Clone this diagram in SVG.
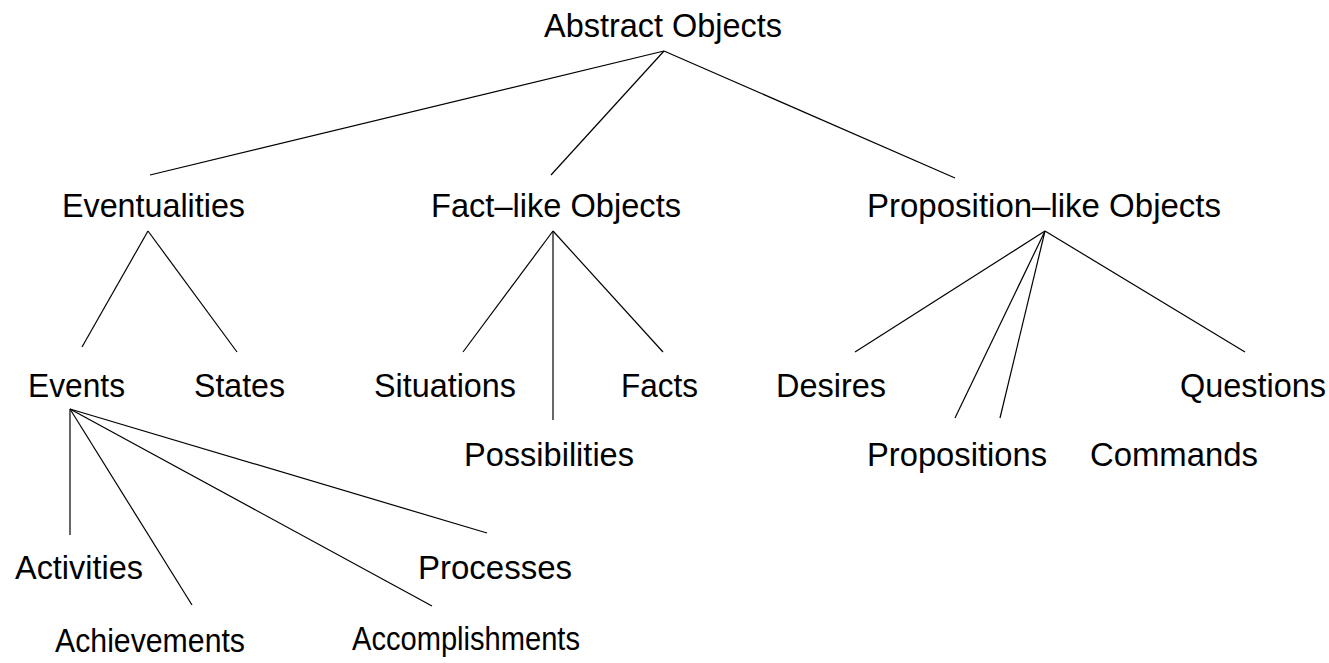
<svg xmlns="http://www.w3.org/2000/svg" width="1329" height="663" viewBox="0 0 1329 663">
<style>
text{font-family:"Liberation Sans",Arial,Helvetica,sans-serif;font-size:33px;fill:#000}
.c line{stroke:#000;stroke-width:1.2}
</style>
<rect width="1329" height="663" fill="#fff"/>
<g class="c" id="connectors">
<line x1="664" y1="51" x2="150" y2="175"/>
<line x1="664" y1="51" x2="551" y2="175"/>
<line x1="664" y1="51" x2="955" y2="178"/>
<line x1="148" y1="231" x2="82" y2="347"/>
<line x1="148" y1="231" x2="237" y2="352"/>
<line x1="553" y1="231" x2="463" y2="352"/>
<line x1="553" y1="231" x2="553" y2="420"/>
<line x1="553" y1="231" x2="663" y2="352"/>
<line x1="1045" y1="231" x2="855" y2="352"/>
<line x1="1045" y1="231" x2="955" y2="418"/>
<line x1="1045" y1="231" x2="1000" y2="418"/>
<line x1="1045" y1="231" x2="1245" y2="352"/>
<line x1="70" y1="409" x2="70" y2="535"/>
<line x1="70" y1="409" x2="192" y2="605"/>
<line x1="70" y1="409" x2="432" y2="606"/>
<line x1="70" y1="409" x2="487" y2="533"/>
</g>
<g id="abstract"><text x="544" y="37" textLength="238" lengthAdjust="spacingAndGlyphs">Abstract Objects</text></g>
<g id="eventualities"><text x="62" y="217" textLength="183" lengthAdjust="spacingAndGlyphs">Eventualities</text></g>
<g id="factlike"><text x="431" y="217" textLength="250" lengthAdjust="spacingAndGlyphs">Fact–like Objects</text></g>
<g id="proplike"><text x="867" y="217" textLength="354" lengthAdjust="spacingAndGlyphs">Proposition–like Objects</text></g>
<g id="events"><text x="28" y="397" textLength="97" lengthAdjust="spacingAndGlyphs">Events</text></g>
<g id="states"><text x="194" y="397" textLength="91" lengthAdjust="spacingAndGlyphs">States</text></g>
<g id="situations"><text x="374" y="397" textLength="142" lengthAdjust="spacingAndGlyphs">Situations</text></g>
<g id="facts"><text x="621" y="397" textLength="77" lengthAdjust="spacingAndGlyphs">Facts</text></g>
<g id="possibilities"><text x="464" y="466" textLength="170" lengthAdjust="spacingAndGlyphs">Possibilities</text></g>
<g id="desires"><text x="776" y="397" textLength="110" lengthAdjust="spacingAndGlyphs">Desires</text></g>
<g id="questions"><text x="1180" y="397" textLength="146" lengthAdjust="spacingAndGlyphs">Questions</text></g>
<g id="propositions"><text x="867" y="466" textLength="180" lengthAdjust="spacingAndGlyphs">Propositions</text></g>
<g id="commands"><text x="1090" y="466" textLength="168" lengthAdjust="spacingAndGlyphs">Commands</text></g>
<g id="activities"><text x="15" y="579" textLength="128" lengthAdjust="spacingAndGlyphs">Activities</text></g>
<g id="processes"><text x="418" y="579" textLength="154" lengthAdjust="spacingAndGlyphs">Processes</text></g>
<g id="achievements"><text x="55" y="652" textLength="190" lengthAdjust="spacingAndGlyphs">Achievements</text></g>
<g id="accomplishments"><text x="352" y="650" textLength="228" lengthAdjust="spacingAndGlyphs">Accomplishments</text></g>
</svg>
